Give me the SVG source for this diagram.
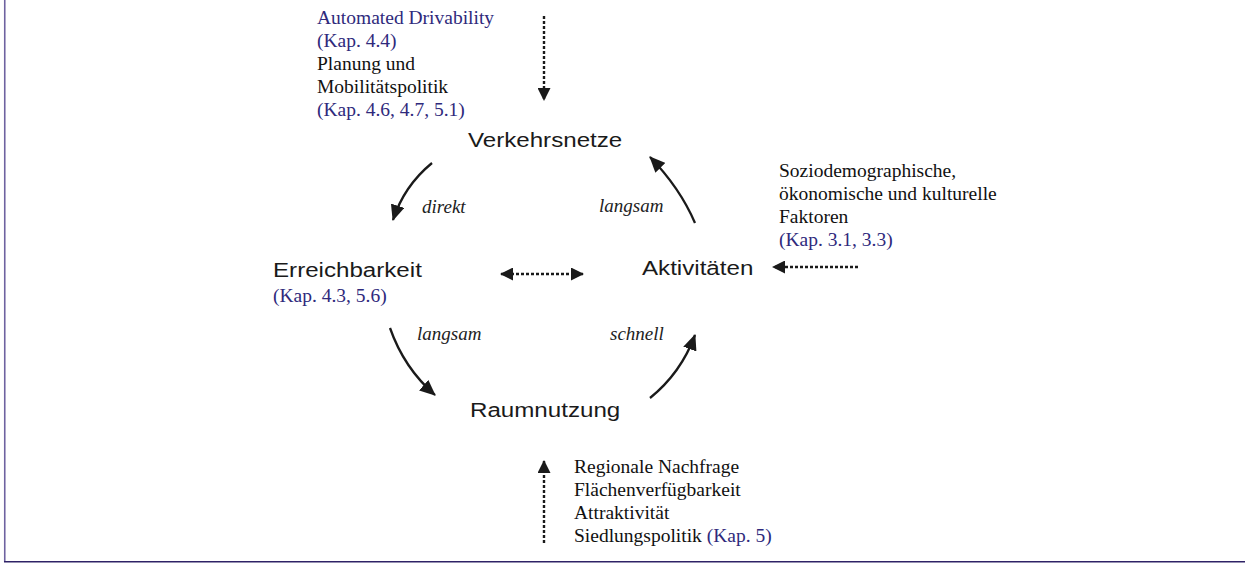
<svg xmlns="http://www.w3.org/2000/svg" width="1245" height="563" viewBox="0 0 1245 563">
  <style>
    .node { font-family: "Liberation Sans", Arial, sans-serif; font-size: 21px; fill: #1a1a1a; }
    .note { font-family: "Liberation Serif", "Times New Roman", serif; font-size: 19.5px; fill: #111; }
    .ref { fill: #2f2a7c; }
    .rate { font-family: "Liberation Serif", "Times New Roman", serif; font-size: 19px; font-style: italic; fill: #222; }
    .flow { fill: none; stroke: #1a1a1a; stroke-width: 2.3; }
    .influence { fill: none; stroke: #1a1a1a; stroke-width: 2.4; stroke-dasharray: 3 2; }
  </style>
  <defs>
    <marker id="head" viewBox="0 0 16 14" refX="15" refY="7" markerWidth="16" markerHeight="14" markerUnits="userSpaceOnUse" orient="auto">
      <path d="M0,0 L16,7 L0,14 z" fill="#1a1a1a"/>
    </marker>
    <marker id="dhead" viewBox="0 0 13 13" refX="12" refY="6.5" markerWidth="13" markerHeight="13" markerUnits="userSpaceOnUse" orient="auto-start-reverse">
      <path d="M0,0 L13,6.5 L0,13 z" fill="#1a1a1a"/>
    </marker>
  </defs>

  <!-- frame -->
  <line x1="4.75" y1="0" x2="4.75" y2="562" stroke="#6e62a0" stroke-width="1.6"/>
  <line x1="4" y1="561.8" x2="1245" y2="561.8" stroke="#2e2266" stroke-width="1.6"/>

  <g id="connectors">
    <!-- cycle -->
    <path class="flow" d="M432,163 Q404,186 393,220" marker-end="url(#head)"/>
    <path class="flow" d="M695,223 Q680,188 650,157" marker-end="url(#head)"/>
    <path class="flow" d="M390,328 Q404,368 435,395" marker-end="url(#head)"/>
    <path class="flow" d="M650,398 Q681,373 695,335" marker-end="url(#head)"/>
    <!-- external influences -->
    <line class="influence" x1="544" y1="16" x2="544" y2="100" marker-end="url(#dhead)"/>
    <line class="influence" x1="858" y1="267" x2="773" y2="267" marker-end="url(#dhead)"/>
    <line class="influence" x1="501" y1="274" x2="583" y2="274" marker-start="url(#dhead)" marker-end="url(#dhead)"/>
    <line class="influence" x1="544" y1="543" x2="544" y2="461" marker-end="url(#dhead)"/>
    <!-- rates -->
    <text class="rate" x="422" y="213">direkt</text>
    <text class="rate" x="599" y="212">langsam</text>
    <text class="rate" x="417" y="340">langsam</text>
    <text class="rate" x="610" y="340">schnell</text>
  </g>

  <!-- node labels use a slightly widened sans face -->
  <g id="verkehrsnetze">
    <text class="node" transform="translate(468,147) scale(1.15,1)">Verkehrsnetze</text>
  </g>

  <g id="erreichbarkeit">
    <text class="node" transform="translate(273,277) scale(1.15,1)">Erreichbarkeit</text>
    <text class="note ref" x="273" y="302">(Kap. 4.3, 5.6)</text>
  </g>

  <g id="aktivitaeten">
    <text class="node" transform="translate(642,275) scale(1.15,1)">Aktivitäten</text>
  </g>

  <g id="raumnutzung">
    <text class="node" transform="translate(470,417) scale(1.15,1)">Raumnutzung</text>
  </g>

  <g id="netz-einfluss">
    <text class="note ref" x="317" y="24">Automated Drivability</text>
    <text class="note ref" x="317" y="47">(Kap. 4.4)</text>
    <text class="note" x="317" y="70">Planung und</text>
    <text class="note" x="317" y="93">Mobilitätspolitik</text>
    <text class="note ref" x="317" y="116">(Kap. 4.6, 4.7, 5.1)</text>
  </g>

  <g id="aktivitaeten-einfluss">
    <text class="note" x="779" y="177">Soziodemographische,</text>
    <text class="note" x="779" y="200">ökonomische und kulturelle</text>
    <text class="note" x="779" y="223">Faktoren</text>
    <text class="note ref" x="779" y="246">(Kap. 3.1, 3.3)</text>
  </g>

  <g id="raum-einfluss">
    <text class="note" x="574" y="473">Regionale Nachfrage</text>
    <text class="note" x="574" y="496">Flächenverfügbarkeit</text>
    <text class="note" x="574" y="519">Attraktivität</text>
    <text class="note" x="574" y="542">Siedlungspolitik <tspan class="ref">(Kap. 5)</tspan></text>
  </g>
</svg>
